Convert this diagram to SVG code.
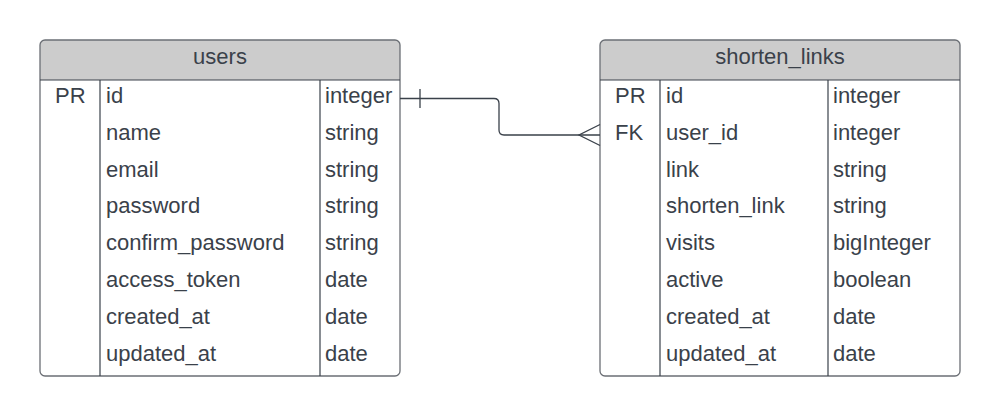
<svg xmlns="http://www.w3.org/2000/svg" width="1000" height="416" viewBox="0 0 1000 416">
<style>
.frame{fill:none;stroke:#6b6f75;stroke-width:1.3}
.head{fill:#cccccc}
.sep{stroke:#3a414a;stroke-width:1.2;fill:none}
.t{font-family:"Liberation Sans",Arial,sans-serif;font-size:22px;fill:#3a414a}
.h{font-family:"Liberation Sans",Arial,sans-serif;font-size:22px;fill:#3a414a;text-anchor:middle}
.conn{stroke:#3a414a;stroke-width:1.3;fill:none}
</style>
<rect width="1000" height="416" fill="#ffffff"/>
<g id="users">
<path class="head" d="M45,40 H395 Q400,40 400,45 V80 H40 V45 Q40,40 45,40 Z"/>
<rect class="frame" x="40" y="40" width="360" height="336" rx="5" ry="5"/>
<line class="sep" x1="40" y1="80" x2="400" y2="80"/>
<line class="sep" x1="100" y1="80" x2="100" y2="376"/>
<line class="sep" x1="320" y1="80" x2="320" y2="376"/>
<text class="h" x="220" y="64.3">users</text>
<text class="t" x="55" y="102.8">PR</text>
<text class="t" x="106" y="102.8">id</text>
<text class="t" x="325" y="102.8">integer</text>
<text class="t" x="106" y="139.6">name</text>
<text class="t" x="325" y="139.6">string</text>
<text class="t" x="106" y="176.5">email</text>
<text class="t" x="325" y="176.5">string</text>
<text class="t" x="106" y="213.3">password</text>
<text class="t" x="325" y="213.3">string</text>
<text class="t" x="106" y="250.2">confirm_password</text>
<text class="t" x="325" y="250.2">string</text>
<text class="t" x="106" y="287">access_token</text>
<text class="t" x="325" y="287">date</text>
<text class="t" x="106" y="323.9">created_at</text>
<text class="t" x="325" y="323.9">date</text>
<text class="t" x="106" y="360.7">updated_at</text>
<text class="t" x="325" y="360.7">date</text>
</g>
<g id="shorten_links">
<path class="head" d="M605,40 H955 Q960,40 960,45 V80 H600 V45 Q600,40 605,40 Z"/>
<rect class="frame" x="600" y="40" width="360" height="336" rx="5" ry="5"/>
<line class="sep" x1="600" y1="80" x2="960" y2="80"/>
<line class="sep" x1="660" y1="80" x2="660" y2="376"/>
<line class="sep" x1="828" y1="80" x2="828" y2="376"/>
<text class="h" x="780" y="64.3">shorten_links</text>
<text class="t" x="615" y="102.8">PR</text>
<text class="t" x="666" y="102.8">id</text>
<text class="t" x="833" y="102.8">integer</text>
<text class="t" x="615" y="139.6">FK</text>
<text class="t" x="666" y="139.6">user_id</text>
<text class="t" x="833" y="139.6">integer</text>
<text class="t" x="666" y="176.5">link</text>
<text class="t" x="833" y="176.5">string</text>
<text class="t" x="666" y="213.3">shorten_link</text>
<text class="t" x="833" y="213.3">string</text>
<text class="t" x="666" y="250.2">visits</text>
<text class="t" x="833" y="250.2">bigInteger</text>
<text class="t" x="666" y="287">active</text>
<text class="t" x="833" y="287">boolean</text>
<text class="t" x="666" y="323.9">created_at</text>
<text class="t" x="833" y="323.9">date</text>
<text class="t" x="666" y="360.7">updated_at</text>
<text class="t" x="833" y="360.7">date</text>
</g>
<g id="connectors">
<path class="conn" d="M400,98.5 H494 Q499,98.5 499,103.5 V130 Q499,135 504,135 H600"/>
<line class="conn" x1="420" y1="89" x2="420" y2="108"/>
<path class="conn" d="M600,124.5 L579,135 L600,145.5"/>
</g>
</svg>
